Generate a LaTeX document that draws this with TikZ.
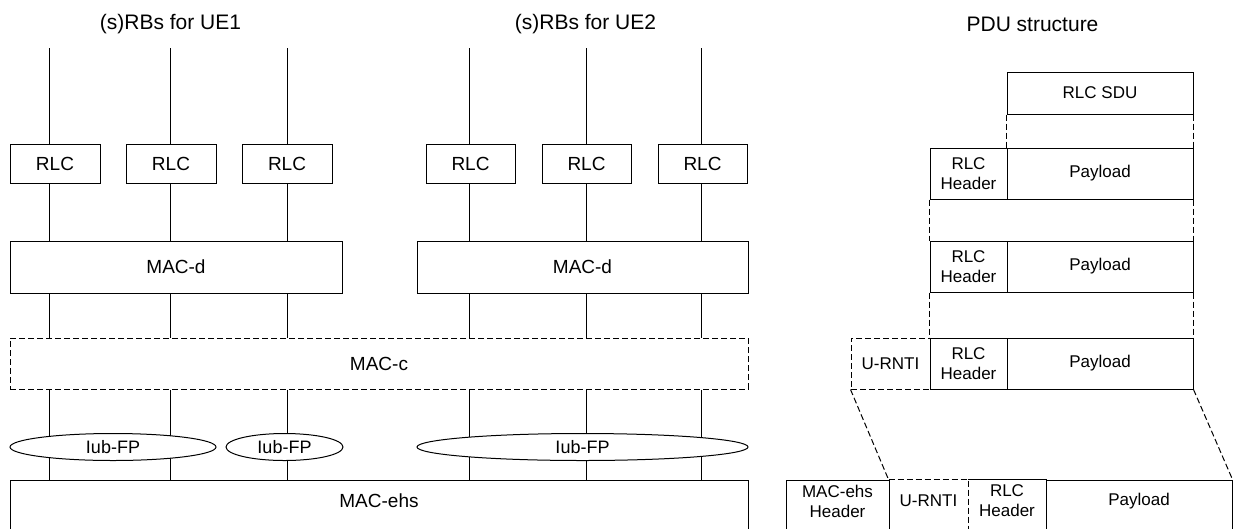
\documentclass[tikz,border=0pt]{standalone}
\usepackage{fontspec}
\setmainfont{Liberation Sans}
\usetikzlibrary{shapes.geometric}
\begin{document}
\begin{tikzpicture}[x=1pt,y=-1pt,line width=1pt,
  box/.style={draw,inner sep=0pt,align=center,font=\fontsize{19}{22}\selectfont},
  pbox/.style={draw,inner sep=0pt,align=center,font=\fontsize{17}{20}\selectfont},
  pfree/.style={inner sep=0pt,align=center,font=\fontsize{17}{20}\selectfont},
  dsh/.style={dash pattern=on 6pt off 3pt},
  iub/.style={draw,fill=white,ellipse,inner sep=0pt,minimum height=27pt,font=\fontsize{18}{20}\selectfont},
  ttl/.style={font=\fontsize{21}{24}\selectfont},
]
\useasboundingbox (0,0) rectangle (1233,528);
\clip (0,0) rectangle (1233,528);

% titles
\node[ttl] (tUE1) at (170.5,24) {(s)RBs for UE1};
\node[ttl] (tUE2) at (585.5,24) {(s)RBs for UE2};
\node[ttl] (tPDU) at (1032.5,24) {PDU structure};

% RLC boxes
\node[box,minimum width=90pt,minimum height=39pt] (rlcA) at (55,163.5) {RLC};
\node[box,minimum width=90pt,minimum height=39pt] (rlcB) at (171,163.5) {RLC};
\node[box,minimum width=90pt,minimum height=39pt] (rlcC) at (287,163.5) {RLC};
\node[box,minimum width=89pt,minimum height=39pt] (rlcD) at (470.5,163.5) {RLC};
\node[box,minimum width=89pt,minimum height=39pt] (rlcE) at (586.5,163.5) {RLC};
\node[box,minimum width=89pt,minimum height=39pt] (rlcF) at (702.5,163.5) {RLC};

% MAC-d
\node[box,minimum width=332pt,minimum height=52pt] (macdL) at (176,267) {MAC-d};
\node[box,minimum width=331pt,minimum height=52pt] (macdR) at (582.5,267) {MAC-d};

% MAC-c
\node[box,dsh,minimum width=738pt,minimum height=51pt] (macc) at (379,363.5) {MAC-c};

% MAC-ehs
\node[draw,inner sep=0pt,minimum width=738pt,minimum height=52pt,
      label={[font=\fontsize{19}{22}\selectfont,yshift=5pt]center:MAC-ehs}] (ehs) at (379,506) {};

% top line ends
\coordinate (t1) at (49,48);
\coordinate (t2) at (170,48);
\coordinate (t3) at (287,48);
\coordinate (t4) at (469,48);
\coordinate (t5) at (586,48);
\coordinate (t6) at (701,48);

\foreach \t/\r/\m in {t1/rlcA/macdL,t2/rlcB/macdL,t3/rlcC/macdL,t4/rlcD/macdR,t5/rlcE/macdR,t6/rlcF/macdR}{
  \draw (\t) -- (\t |- \r.north);
  \draw (\t |- \r.south) -- (\t |- \m.north);
  \draw (\t |- \m.south) -- (\t |- macc.north);
  \draw (\t |- macc.south) -- (\t |- ehs.north);
}

% Iub-FP
\node[iub,minimum width=206pt] (iub1) at (113,447) {Iub-FP};
\node[iub,minimum width=117pt] (iub2) at (284.5,447) {Iub-FP};
\node[iub,minimum width=331pt] (iub3) at (582.5,447) {Iub-FP};

% PDU structure
\node[pbox,minimum width=186pt,minimum height=42pt] (sdu) at (1100,93) {RLC SDU};

\node[pbox,minimum width=77pt,minimum height=51pt] (hdr1) at (968.5,173.5) {RLC\\Header};
\node[pbox,minimum width=186pt,minimum height=51pt] (pay1) at (1100,173.5) {Payload};

\node[pbox,minimum width=77pt,minimum height=51pt] (hdr2) at (968.5,266.5) {RLC\\Header};
\node[pbox,minimum width=186pt,minimum height=51pt] (pay2) at (1100,266.5) {Payload};

\node[pbox,dsh,minimum width=79pt,minimum height=51pt] (ur3) at (890.5,363.5) {U-RNTI};
\node[pbox,minimum width=77pt,minimum height=51pt] (hdr3) at (968.5,363.5) {RLC\\Header};
\node[pbox,minimum width=186pt,minimum height=51pt] (pay3) at (1100,363.5) {Payload};

% bottom PDU
\node[draw,inner sep=0pt,minimum width=103pt,minimum height=52pt,
      label={[pfree,yshift=5pt]center:MAC-ehs\\Header}] (mh4) at (837.5,506) {};
\node[inner sep=0pt,minimum width=79pt,minimum height=52pt,
      label={[pfree,yshift=5pt]center:U-RNTI}] (ur4) at (928.5,506) {};
\node[inner sep=0pt,minimum width=78pt,minimum height=52pt,
      label={[pfree,yshift=5pt]center:RLC\\Header}] (hdr4) at (1007,506) {};
\node[draw,inner sep=0pt,minimum width=186pt,minimum height=52pt,
      label={[pfree,yshift=5pt]center:Payload}] (pay4) at (1139,506) {};
\draw[dsh] (ur4.north west) -- (ur4.north east) -- (ur4.south east);
\draw (hdr4.north west) -- (hdr4.north east);

% dashed projection lines
\draw[dsh] (sdu.south west) -- (pay1.north west);
\draw[dsh] (sdu.south east) -- (pay1.north east);
\draw[dsh] (hdr1.south west) -- (hdr2.north west);
\draw[dsh] (pay1.south east) -- (pay2.north east);
\draw[dsh] (hdr2.south west) -- (hdr3.north west);
\draw[dsh] (pay2.south east) -- (pay3.north east);
\draw[dsh] (ur3.south west) -- (ur4.north west);
\draw[dsh] (pay3.south east) -- (pay4.north east);
\end{tikzpicture}
\end{document}
